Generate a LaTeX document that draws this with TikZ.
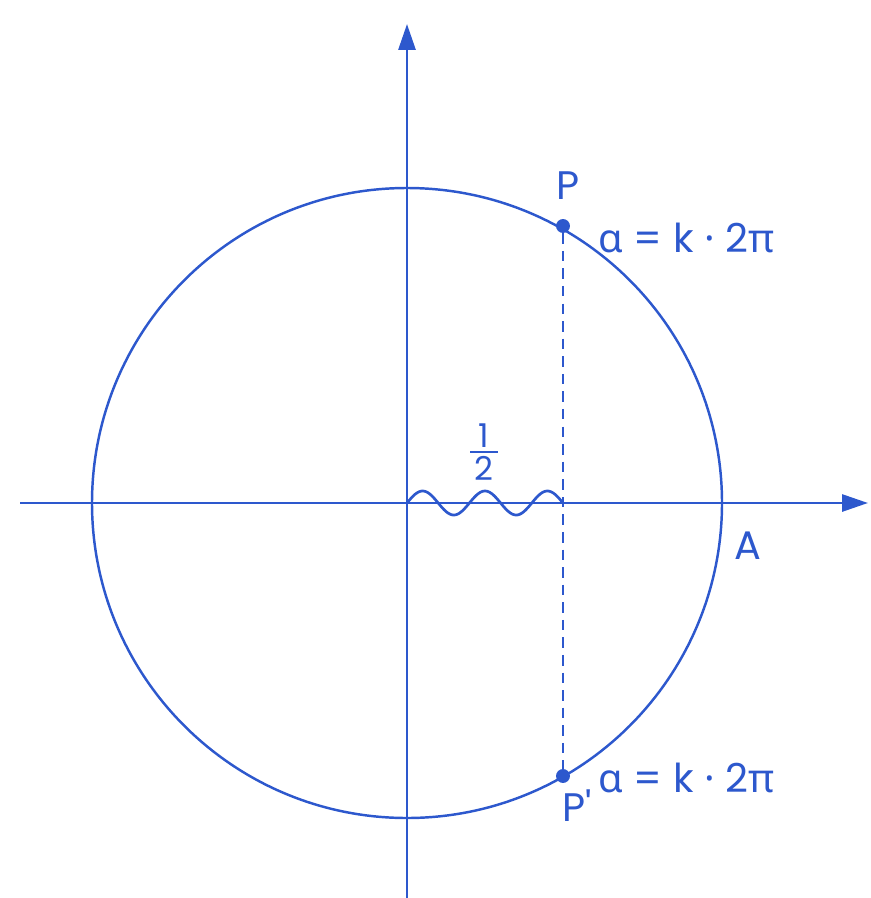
\documentclass[tikz,border=0pt]{standalone}
\usepackage{fontspec}
\setmainfont{Poppins}
\newfontfamily\greekfont{Noto Sans}
\usetikzlibrary{arrows.meta}
\definecolor{ink}{RGB}{45,88,205}
\begin{document}
\begin{tikzpicture}[x=0.03cm,y=-0.03cm,
  ink line/.style={draw=ink,line width=2.5pt},
  axis/.style={ink line,-{Triangle[length=26*0.85pt,width=17*0.85pt]}},
  lbl/.style={text=ink,font=\fontsize{34}{40}\selectfont,inner sep=0pt},
  dot/.style={circle,fill=ink,inner sep=0pt,minimum size=14*0.85pt}]
\useasboundingbox (0,0) rectangle (871,898);
\coordinate (O) at (407,503);
\coordinate (xs) at (20,503);
\coordinate (xe) at (868,503);
\coordinate (ys) at (407,898);
\coordinate (ye) at (407,24);
\draw[axis] (xs) -- (xe);
\draw[axis] (ys) -- (ye);
\draw[ink line,line width=2.1pt] (O) circle[radius=315];
\node[dot] (P) at (563,226) {};
\node[dot] (Pp) at (563,776) {};
\coordinate (H) at (563,503);
\draw[ink line,line width=2pt,dash pattern=on 9pt off 6pt] (P) -- (Pp);
\draw[ink line,line width=2.3pt,domain=0:156,samples=120,smooth]
  plot ({407+\x},{503-12*sin(\x/156*2.5*360)});
\node[lbl] (Pl) at (568,186) {P};
\node[lbl] (Ppl) at (577,806) {P\textquotesingle};
\node[lbl] (A) at (748,546) {A};
\node[lbl,anchor=west] (a1) at (598,238) {{\greekfont α} = k {\greekfont ·} 2{\greekfont π}};
\node[lbl,anchor=west] (a2) at (598,778) {{\greekfont α} = k {\greekfont ·} 2{\greekfont π}};
\node[lbl,font=\fontsize{28}{32}\selectfont] (one) at (484,436) {1};
\node[lbl,font=\fontsize{28}{32}\selectfont] (two) at (484,468) {2};
\coordinate (bl) at (470,452);
\coordinate (br) at (498,452);
\draw[ink line,line width=2pt] (bl) -- (br);
\end{tikzpicture}
\end{document}
